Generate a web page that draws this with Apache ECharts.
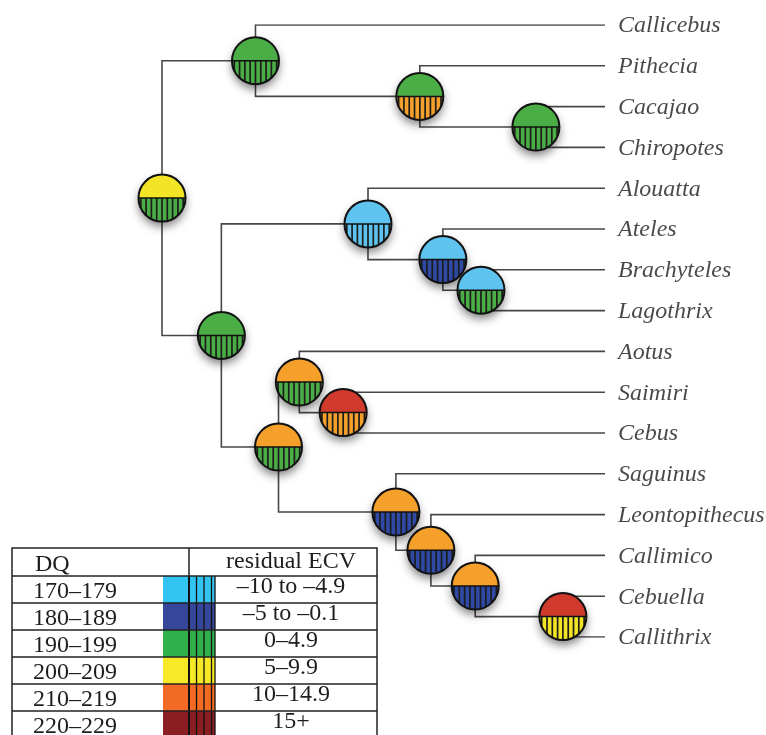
<!DOCTYPE html>
<html>
<head>
<meta charset="utf-8">
<script src="https://cdn.jsdelivr.net/npm/echarts@6/dist/echarts.min.js"></script>
<style>
  html, body { margin: 0; padding: 0; background: #fff; }
  #main { width: 766px; height: 735px; }
</style>
</head>
<body>
<div id="main"></div>
<script>
// tip taxa, top to bottom
const taxa = ['Callicebus', 'Pithecia', 'Cacajao', 'Chiropotes', 'Alouatta', 'Ateles',
  'Brachyteles', 'Lagothrix', 'Aotus', 'Saimiri', 'Cebus', 'Saguinus',
  'Leontopithecus', 'Callimico', 'Cebuella', 'Callithrix'];

// internal nodes: children (taxon name or node id), depth from root, DQ class, ECV class
const nodeIds = ['n0', 'n1', 'n2', 'n3', 'n4', 'n5', 'n6', 'n7', 'n8', 'n9', 'n10', 'n11', 'n12', 'n13', 'n14'];
const nodeKids = [
  ['n1', 'n4'], ['Callicebus', 'n2'], ['Pithecia', 'n3'], ['Cacajao', 'Chiropotes'],
  ['n5', 'n8'], ['Alouatta', 'n6'], ['Ateles', 'n7'], ['Brachyteles', 'Lagothrix'],
  ['n9', 'n11'], ['Aotus', 'n10'], ['Saimiri', 'Cebus'], ['Saguinus', 'n12'],
  ['Leontopithecus', 'n13'], ['Callimico', 'n14'], ['Cebuella', 'Callithrix']
];
const nodeDepth = [0, 21.1, 58.2, 84.4, 13.4, 46.5, 63.4, 72.0, 26.3, 31.0, 40.9, 52.8, 60.7, 70.7, 90.5];
const tipDepth = 100;
const nodeDQ = [3, 2, 2, 2, 2, 0, 0, 0, 4, 4, 5, 4, 4, 4, 5];
const nodeECV = [2, 2, 4, 2, 2, 0, 1, 2, 2, 2, 4, 1, 1, 1, 3];

// legend table
const dqLabels = ['170–179', '180–189', '190–199', '200–209', '210–219', '220–229'];
const ecvLabels = ['–10 to –4.9', '–5 to –0.1', '0–4.9', '5–9.9', '10–14.9', '15+'];
const legendColors = ['#33c3f1', '#36469a', '#2fb04a', '#f7e925', '#f26a24', '#8a1e22'];
const nodeColors = ['#5ec4ef', '#2f4aa5', '#4bad45', '#f3e526', '#f4a02b', '#cf3a2c'];

// layout: tip rows by index, internal node row = mean of its children
let pos = {};
taxa.forEach((t, i) => { pos[t] = [tipDepth, i]; });
function place(id) {
  if (pos[id]) return pos[id];
  let k = nodeIds.indexOf(id);
  let ys = nodeKids[k].map(c => place(c)[1]);
  pos[id] = [nodeDepth[k], (ys[0] + ys[1]) / 2];
  return pos[id];
}
place('n0');

// branch polylines
let branches = [];
nodeIds.forEach((id, k) => {
  let p = pos[id];
  nodeKids[k].forEach(c => {
    let q = pos[c];
    branches.push({ coords: [[p[0], p[1]], [p[0], q[1]], [q[0], q[1]]] });
  });
});

let nodeData = nodeIds.map((id, k) => [pos[id][0], pos[id][1], nodeDQ[k], nodeECV[k]]);

// node disc: solid top (DQ), hatched bottom (ECV)
function renderNode(params, api) {
  let c = api.coord([api.value(0), api.value(1)]);
  let cx = c[0], cy = c[1], r = 23.5;
  let kids = [
    { type: 'circle', shape: { cx: cx, cy: cy, r: r },
      style: { fill: nodeColors[api.value(2)], shadowBlur: 10, shadowOffsetY: 5, shadowColor: 'rgba(0,0,0,0.5)' } },
    { type: 'sector', shape: { cx: cx, cy: cy, r0: 0, r: r, startAngle: 0, endAngle: Math.PI, clockwise: true },
      style: { fill: nodeColors[api.value(3)] } }
  ];
  for (let s = -4; s <= 4; s++) {
    let dx = s * 5.3;
    let h = Math.sqrt(r * r - dx * dx);
    kids.push({ type: 'line', shape: { x1: cx + dx, y1: cy, x2: cx + dx, y2: cy + h },
      style: { stroke: '#1c1c1c', lineWidth: 1.7 } });
  }
  kids.push({ type: 'line', shape: { x1: cx - r, y1: cy, x2: cx + r, y2: cy },
    style: { stroke: '#111', lineWidth: 1.5 } });
  kids.push({ type: 'circle', shape: { cx: cx, cy: cy, r: r },
    style: { fill: null, stroke: '#111', lineWidth: 2 } });
  return { type: 'group', children: kids };
}

// legend built as graphic elements
const tblLeft = 12, tblRight = 377, tblTop = 548, headH = 28, rowH = 27;
let legend = [];
legend.push({ type: 'rect', shape: { x: tblLeft, y: tblTop, width: tblRight - tblLeft, height: headH + rowH * 7 },
  style: { fill: '#fff', stroke: '#222', lineWidth: 1.5 }, z: 10 });
dqLabels.forEach((lab, i) => {
  let top = tblTop + headH + i * rowH;
  legend.push({ type: 'rect', shape: { x: 163, y: top, width: 52, height: rowH }, style: { fill: legendColors[i] }, z: 11 });
  [189, 196.5, 204, 211.5, 215].forEach((x, j) => {
    legend.push({ type: 'line', shape: { x1: x, y1: top, x2: x, y2: top + rowH },
      style: { stroke: '#111', lineWidth: j === 0 ? 2 : 1.3 }, z: 12 });
  });
  legend.push({ type: 'text', x: 33, y: top + 15.5, z: 13,
    style: { text: lab, font: '24px "Liberation Serif"', fill: '#1e1e1e', verticalAlign: 'middle' } });
  legend.push({ type: 'text', x: 291, y: top + 11, z: 13,
    style: { text: ecvLabels[i], font: '24px "Liberation Serif"', fill: '#1e1e1e', align: 'center', verticalAlign: 'middle' } });
});
for (let i = 0; i <= 6; i++) {
  let y = tblTop + headH + i * rowH;
  legend.push({ type: 'line', shape: { x1: tblLeft, y1: y, x2: tblRight, y2: y }, style: { stroke: '#222', lineWidth: 1.5 }, z: 12 });
}
legend.push({ type: 'line', shape: { x1: 189, y1: tblTop, x2: 189, y2: tblTop + headH }, style: { stroke: '#222', lineWidth: 1.5 }, z: 12 });
legend.push({ type: 'text', x: 35, y: tblTop + 17, z: 13,
  style: { text: 'DQ', font: '24px "Liberation Serif"', fill: '#1e1e1e', verticalAlign: 'middle' } });
legend.push({ type: 'text', x: 291, y: tblTop + 14, z: 13,
  style: { text: 'residual ECV', font: '24px "Liberation Serif"', fill: '#1e1e1e', align: 'center', verticalAlign: 'middle' } });

let chart = echarts.init(document.getElementById('main'));
chart.setOption({
  animation: false,
  backgroundColor: '#fff',
  grid: { left: 162, right: 161, top: 25, bottom: 98 },
  xAxis: { type: 'value', min: 0, max: tipDepth, show: false },
  yAxis: { type: 'value', min: 0, max: taxa.length - 1, inverse: true, show: false },
  graphic: legend,
  series: [
    {
      type: 'lines',
      coordinateSystem: 'cartesian2d',
      polyline: true,
      silent: true,
      z: 1,
      lineStyle: { color: '#474747', width: 1.6, opacity: 1 },
      data: branches
    },
    {
      type: 'scatter',
      symbolSize: 0,
      z: 2,
      data: taxa.map((t, i) => ({ name: t, value: [tipDepth, i] })),
      label: {
        show: true, position: 'right', distance: 13, offset: [0, 1], formatter: '{b}',
        fontFamily: 'Liberation Serif', fontStyle: 'italic', fontSize: 24, color: '#1a1a1a'
      }
    },
    {
      type: 'custom',
      z: 3,
      clip: false,
      renderItem: renderNode,
      data: nodeData
    }
  ]
});
</script>
</body>
</html>
